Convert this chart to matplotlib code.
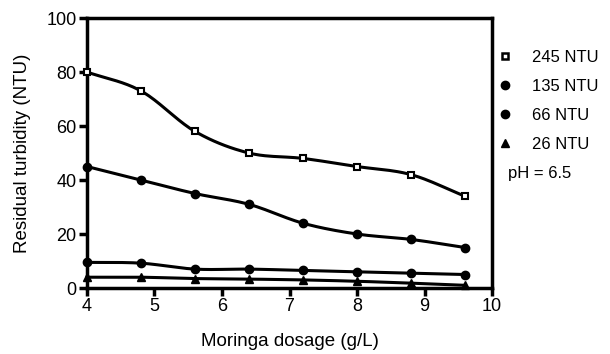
import numpy as np
import matplotlib
matplotlib.use("Agg")
import matplotlib.pyplot as plt
from matplotlib.lines import Line2D

plt.rcParams['font.family'] = ['Liberation Sans', 'DejaVu Sans']

dosage = [4.0, 4.8, 5.6, 6.4, 7.2, 8.0, 8.8, 9.6]
ntu245 = [80, 73, 58, 50, 48, 45, 42, 34]
ntu135 = [45, 40, 35, 31, 24, 20, 18, 15]
ntu66 = [9.5, 9.2, 7.0, 7.0, 6.5, 6.0, 5.5, 5.0]
ntu26 = [4.0, 4.0, 3.5, 3.3, 3.0, 2.5, 1.8, 1.0]
labels = ['245 NTU', '135 NTU', '66 NTU', '26 NTU']
markers = ['s', 'o', 'o', '^']
series = [ntu245, ntu135, ntu66, ntu26]


def smooth(x, y, n=20):
    x = np.asarray(x, float)
    y = np.asarray(y, float)
    px = np.concatenate([[2 * x[0] - x[1]], x, [2 * x[-1] - x[-2]]])
    py = np.concatenate([[2 * y[0] - y[1]], y, [2 * y[-1] - y[-2]]])
    xs, ys = [], []
    for i in range(1, len(px) - 2):
        t = np.linspace(0, 1, n, endpoint=False)
        for p, out in ((px, xs), (py, ys)):
            p0, p1, p2, p3 = p[i - 1], p[i], p[i + 1], p[i + 2]
            out.append(0.5 * ((2 * p1) + (-p0 + p2) * t
                              + (2 * p0 - 5 * p1 + 4 * p2 - p3) * t ** 2
                              + (-p0 + 3 * p1 - 3 * p2 + p3) * t ** 3))
    xs.append([x[-1]])
    ys.append([y[-1]])
    return np.concatenate(xs), np.concatenate(ys)


fig = plt.figure(figsize=(6.1, 3.54), dpi=100)
ax = fig.add_axes([0.1426, 0.1864, 0.664, 0.7626])

for y, m in zip(series, markers):
    sx, sy = smooth(dosage, y)
    ax.plot(sx, sy, color='black', lw=2.2, clip_on=False, zorder=3)
    if m == 's':
        ax.plot(dosage, y, linestyle='none', marker=m, ms=5, mfc='white',
                mec='black', mew=1.5, clip_on=False, zorder=4)
    else:
        ax.plot(dosage, y, linestyle='none', marker=m, ms=6, color='black',
                clip_on=False, zorder=4)

ax.set_xlim(4, 10)
ax.set_ylim(0, 100)
ax.set_xticks([4, 5, 6, 7, 8, 9, 10])
ax.set_yticks([0, 20, 40, 60, 80, 100])
for s in ax.spines.values():
    s.set_linewidth(2.5)
ax.tick_params(direction='out', length=5.5, width=2.5, labelsize=13, pad=2)
ax.set_xlabel('Moringa dosage (g/L)', fontsize=13.5, labelpad=13)
ax.set_ylabel('Residual turbidity (NTU)', fontsize=13.5, labelpad=11)

handles = []
for lab, m in zip(labels, markers):
    if m == 's':
        h = Line2D([], [], linestyle='none', marker='s', ms=4.5, mfc='white',
                   mec='black', mew=1.8)
    else:
        h = Line2D([], [], linestyle='none', marker=m, ms=6, color='black')
    handles.append(h)
leg = fig.legend(handles, labels, loc='upper left', bbox_to_anchor=(0.806, 0.878),
                 frameon=False, fontsize=12, handlelength=0.8, handletextpad=1.2,
                 labelspacing=0.84, borderaxespad=0)
fig.text(0.833, 0.51, 'pH = 6.5', fontsize=12, va='center', ha='left')

fig.savefig('out.png', dpi=100)
